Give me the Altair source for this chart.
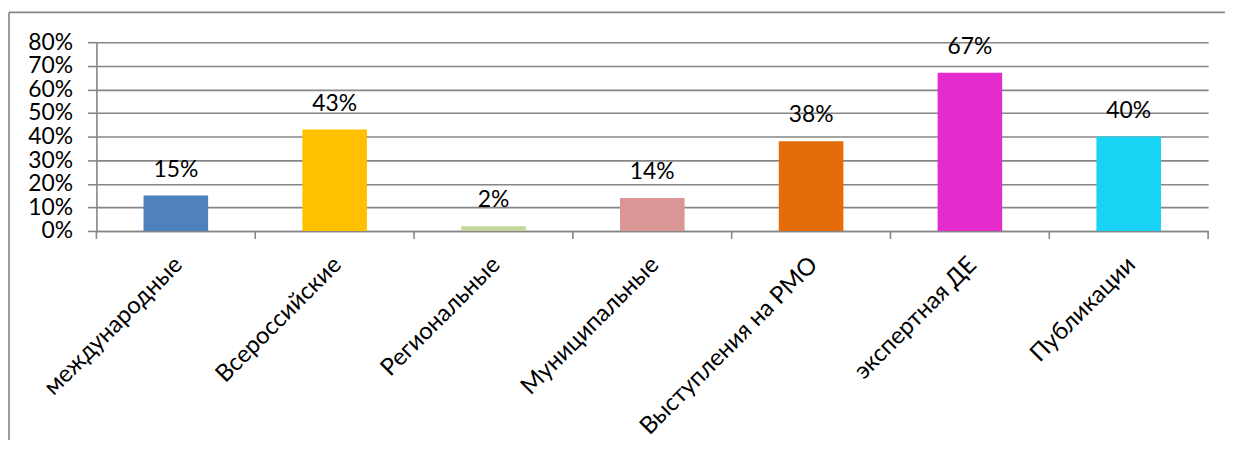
import altair as alt
import pandas as pd

categories = ["международные", "Всероссийские", "Региональные", "Муниципальные",
              "Выступления на РМО", "экспертная ДЕ", "Публикации"]
values = [0.15, 0.43, 0.02, 0.14, 0.38, 0.67, 0.40]
colors = ["#4F81BD", "#FFC000", "#C3D69B", "#D99694", "#E46C0A", "#E32CCB", "#19D3F5"]
y_ticks = [0, 0.1, 0.2, 0.3, 0.4, 0.5, 0.6, 0.7, 0.8]

df = pd.DataFrame({"cat": categories, "v": values})

W, H = 1119, 190
FONT = "Lato"
GRID = "#868686"
FS = 24
FS_Y = 23

xscale = alt.Scale(domain=categories, paddingInner=0, paddingOuter=0)
yscale = alt.Scale(domain=[0, 0.8], nice=False)

x_axis = alt.Axis(title=None, labelAngle=-45, labelAlign="right",
                  labelBaseline="middle", labelFont=FONT, labelFontSize=FS,
                  labelColor="black", ticks=False, tickSize=0,
                  labelPadding=30, labelOffset=3, labelOverlap=False,
                  domainColor=GRID, domainWidth=1.6, labelLimit=400)
y_axis = alt.Axis(title=None, format=".0%", values=y_ticks, tickCount=9,
                  labelOverlap=False, labelFont=FONT, labelFontSize=FS_Y,
                  labelColor="black", tickColor=GRID, tickSize=9, tickWidth=1.6,
                  labelPadding=15, domainColor=GRID, domainWidth=1.6,
                  gridColor=GRID, gridWidth=1.6, grid=True)

x_enc = alt.X("cat:N", sort=categories, scale=xscale, axis=x_axis)
y_enc = alt.Y("v:Q", scale=yscale, axis=y_axis)

base = alt.Chart(df)

bars = base.mark_bar(size=65).encode(
    x=x_enc,
    y=y_enc,
    color=alt.Color("cat:N", sort=categories,
                    scale=alt.Scale(domain=categories, range=colors), legend=None),
)

labels = base.mark_text(baseline="alphabetic", dy=-19, font=FONT, fontSize=FS_Y,
                        color="black").encode(
    x=x_enc,
    y=y_enc,
    text=alt.Text("v:Q", format=".0%"),
)

xticks = base.mark_rule(color=GRID, strokeWidth=1.6).encode(
    x=alt.X("cat:N", sort=categories, scale=xscale, axis=x_axis, bandPosition=0),
    y=alt.value(H),
    y2=alt.value(H + 8),
)

one = pd.DataFrame({"a": [0]})
last_tick = alt.Chart(one).mark_rule(color=GRID, strokeWidth=1.6).encode(
    x=alt.value(W), y=alt.value(H), y2=alt.value(H + 8))

frame_top = alt.Chart(one).mark_rule(color=GRID, strokeWidth=1.6).encode(
    x=alt.value(-88), x2=alt.value(W + 17), y=alt.value(-30))
frame_left = alt.Chart(one).mark_rule(color=GRID, strokeWidth=1.6).encode(
    x=alt.value(-88), y=alt.value(-30), y2=alt.value(H + 300))

chart = alt.layer(bars, labels, xticks, last_tick, frame_top, frame_left).properties(
    width=W, height=H,
    autosize=alt.AutoSizeParams(type="none"),
    padding={"left": 89, "top": 33, "right": 17, "bottom": 209},
).configure_view(stroke=None)

chart.save("out.html", embed_options={"renderer": "svg", "actions": False})
